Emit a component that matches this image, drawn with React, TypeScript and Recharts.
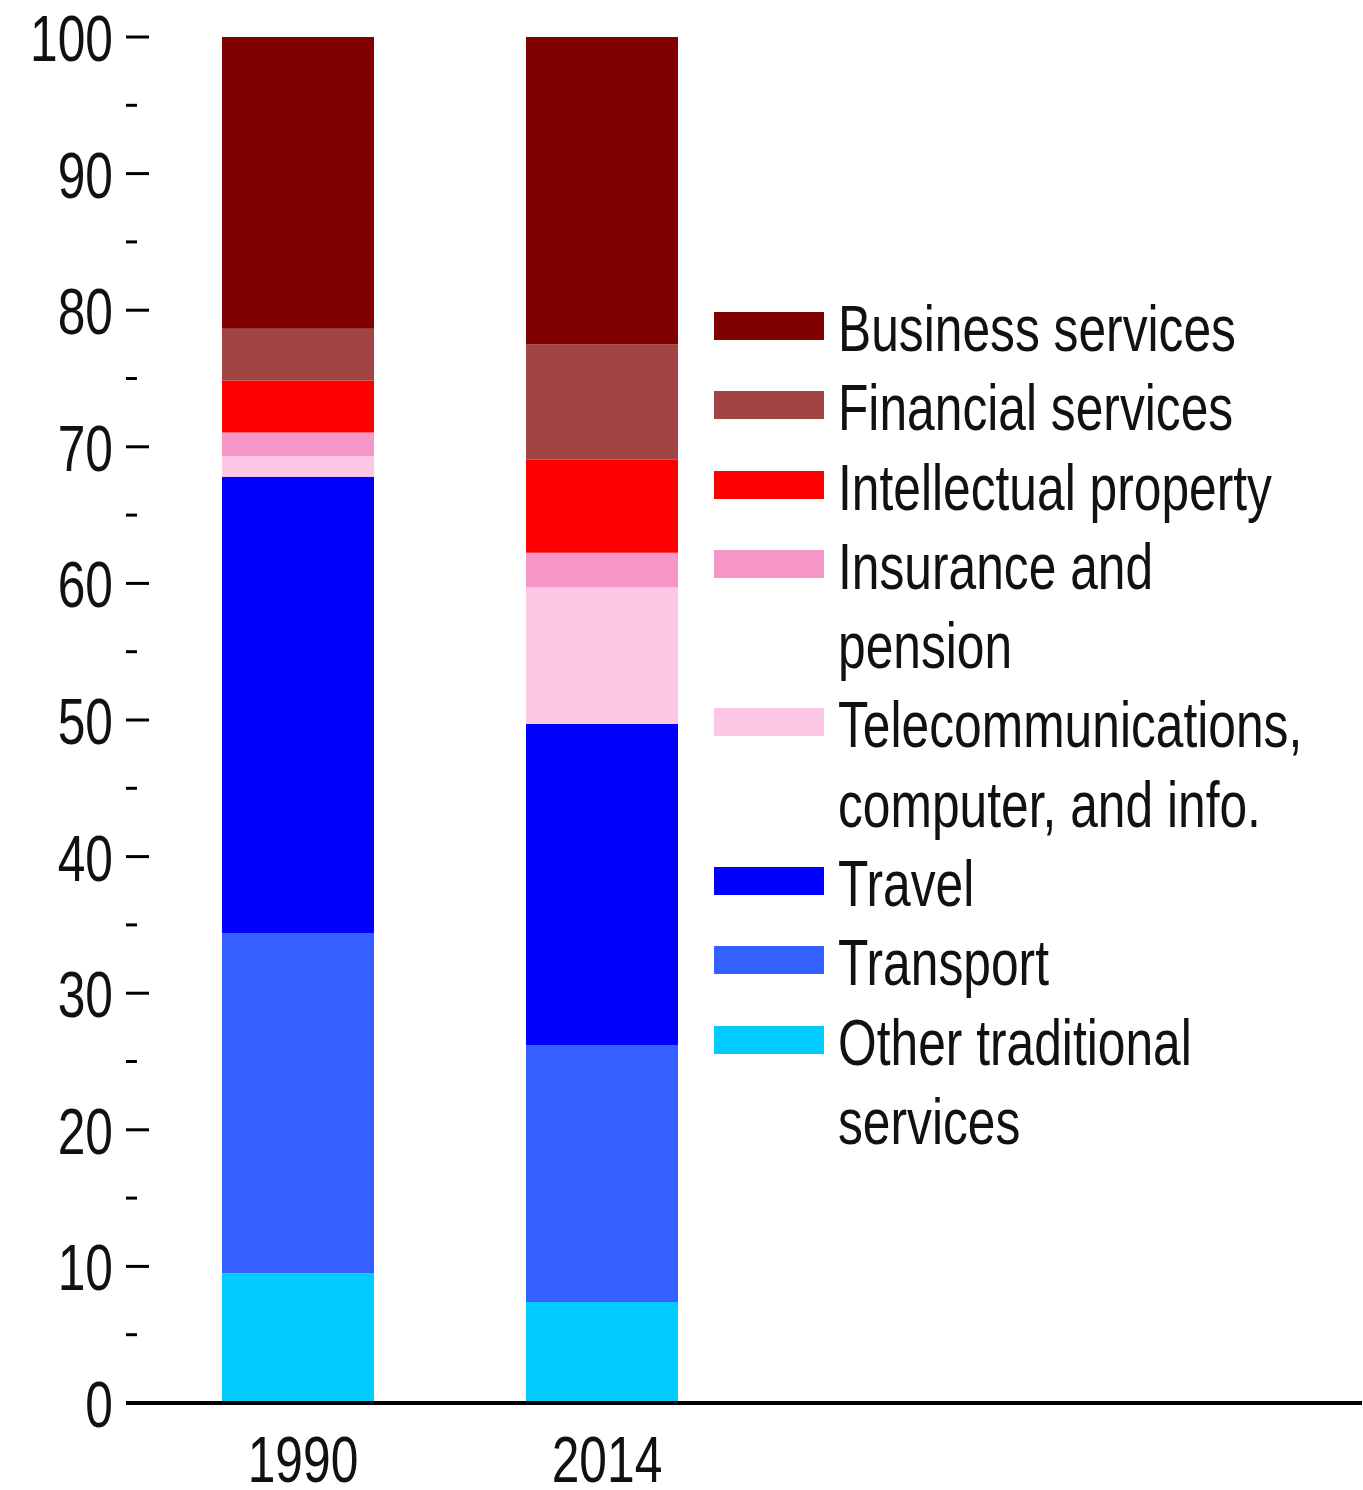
import React from 'react';
import { BarChart, Bar, XAxis, YAxis } from 'recharts';

const categories = ['1990', '2014', '', ' '];
const otherTraditional = [9.5, 7.4];
const transport = [24.9, 18.8];
const travel = [33.4, 23.5];
const telecom = [1.5, 10.0];
const insurance = [1.75, 2.55];
const intellectual = [3.8, 6.8];
const financial = [3.8, 8.45];
const business = [21.35, 22.5];

const seriesKeys = ['other', 'transport', 'travel', 'telecom', 'insurance', 'ip', 'financial', 'business'];
const seriesLabels = [
  'Other traditional\nservices',
  'Transport',
  'Travel',
  'Telecommunications,\ncomputer, and info.',
  'Insurance and\npension',
  'Intellectual property',
  'Financial services',
  'Business services',
];
const seriesColors = ['#00ccff', '#3360ff', '#0000ff', '#fdc8e6', '#f797c9', '#ff0000', '#a04444', '#800000'];
const seriesValues = [otherTraditional, transport, travel, telecom, insurance, intellectual, financial, business];

const yTicks = [0, 5, 10, 15, 20, 25, 30, 35, 40, 45, 50, 55, 60, 65, 70, 75, 80, 85, 90, 95, 100];
const yMajorTicks = [0, 10, 20, 30, 40, 50, 60, 70, 80, 90, 100];

const data = categories.map((c, i) => {
  const row: any = { name: c };
  seriesKeys.forEach((k, s) => {
    row[k] = seriesValues[s][i];
  });
  return row;
});

const FONT = '"Liberation Sans", Arial, sans-serif';
const SX = 0.765;
const TEXT = '#111';

const LeftTick = (props: any) => {
  const { x, y, payload } = props;
  const v = payload.value;
  const major = v % 10 === 0;
  return (
    <g>
      {major ? (
        <>
          <line x1={x - 20} x2={x + 3} y1={y} y2={y} stroke="#000" strokeWidth={v === 0 ? 4 : 3} />
          <text
            transform={`translate(${x - 33},${y + 24}) scale(${SX},1)`}
            textAnchor="end"
            fontFamily={FONT}
            fontSize={65}
            fill={TEXT}
          >
            {v}
          </text>
        </>
      ) : (
        <line x1={x - 20} x2={x - 9} y1={y} y2={y} stroke="#000" strokeWidth={3} />
      )}
    </g>
  );
};

const RightTick = (props: any) => {
  const { x, y } = props;
  return <rect x={x - 4} y={y - 1.5} width={5} height={3} fill="#000" />;
};

const XTick = (props: any) => {
  const { x, y, payload } = props;
  return (
    <text
      transform={`translate(${x + 5},${y + 79}) scale(${SX},1)`}
      textAnchor="middle"
      fontFamily={FONT}
      fontSize={65}
      fill={TEXT}
    >
      {payload.value}
    </text>
  );
};

const LINE_H = 79.3;

const LegendBox = () => {
  const order = seriesKeys.map((_, i) => i).reverse();
  return (
    <div style={{ position: 'absolute', left: 714, top: 289, fontFamily: FONT }}>
      {order.map((i) => (
        <div key={seriesKeys[i]} style={{ display: 'flex', alignItems: 'flex-start' }}>
          <div
            style={{
              width: 110,
              height: 28,
              marginTop: 23,
              marginRight: 14,
              background: seriesColors[i],
              flex: '0 0 auto',
            }}
          />
          <div
            style={{
              fontSize: 65,
              lineHeight: `${LINE_H}px`,
              whiteSpace: 'pre',
              color: TEXT,
              transform: `scaleX(${SX})`,
              transformOrigin: 'left top',
            }}
          >
            {seriesLabels[i]}
          </div>
        </div>
      ))}
    </div>
  );
};

export default function App() {
  return (
    <div style={{ position: 'absolute', left: 0, top: 0, width: 1363, height: 1490, background: '#fff' }}>
      <BarChart
        width={1363}
        height={1490}
        data={data}
        margin={{ top: 37, right: 0, bottom: 0, left: 0 }}
        barCategoryGap="25%"
      >
        <XAxis
          dataKey="name"
          height={87}
          axisLine={{ stroke: '#000', strokeWidth: 4 }}
          tickLine={false}
          tickSize={0}
          tickMargin={0}
          tick={<XTick />}
          interval={0}
          padding={{ left: 0, right: 0 }}
        />
        <YAxis
          yAxisId="l"
          orientation="left"
          width={146}
          domain={[0, 100]}
          ticks={yTicks}
          interval={0}
          axisLine={false}
          tickLine={false}
          tickSize={0}
          tickMargin={0}
          tick={<LeftTick />}
        />
        <YAxis
          yAxisId="r"
          orientation="right"
          width={1}
          domain={[0, 100]}
          ticks={yMajorTicks}
          interval={0}
          axisLine={false}
          tickLine={false}
          tickSize={0}
          tickMargin={0}
          tick={<RightTick />}
        />
        {seriesKeys.map((k, i) => (
          <Bar
            key={k}
            dataKey={k}
            yAxisId="l"
            stackId="a"
            fill={seriesColors[i]}
            isAnimationActive={false}
          />
        ))}
      </BarChart>
      <LegendBox />
    </div>
  );
}
